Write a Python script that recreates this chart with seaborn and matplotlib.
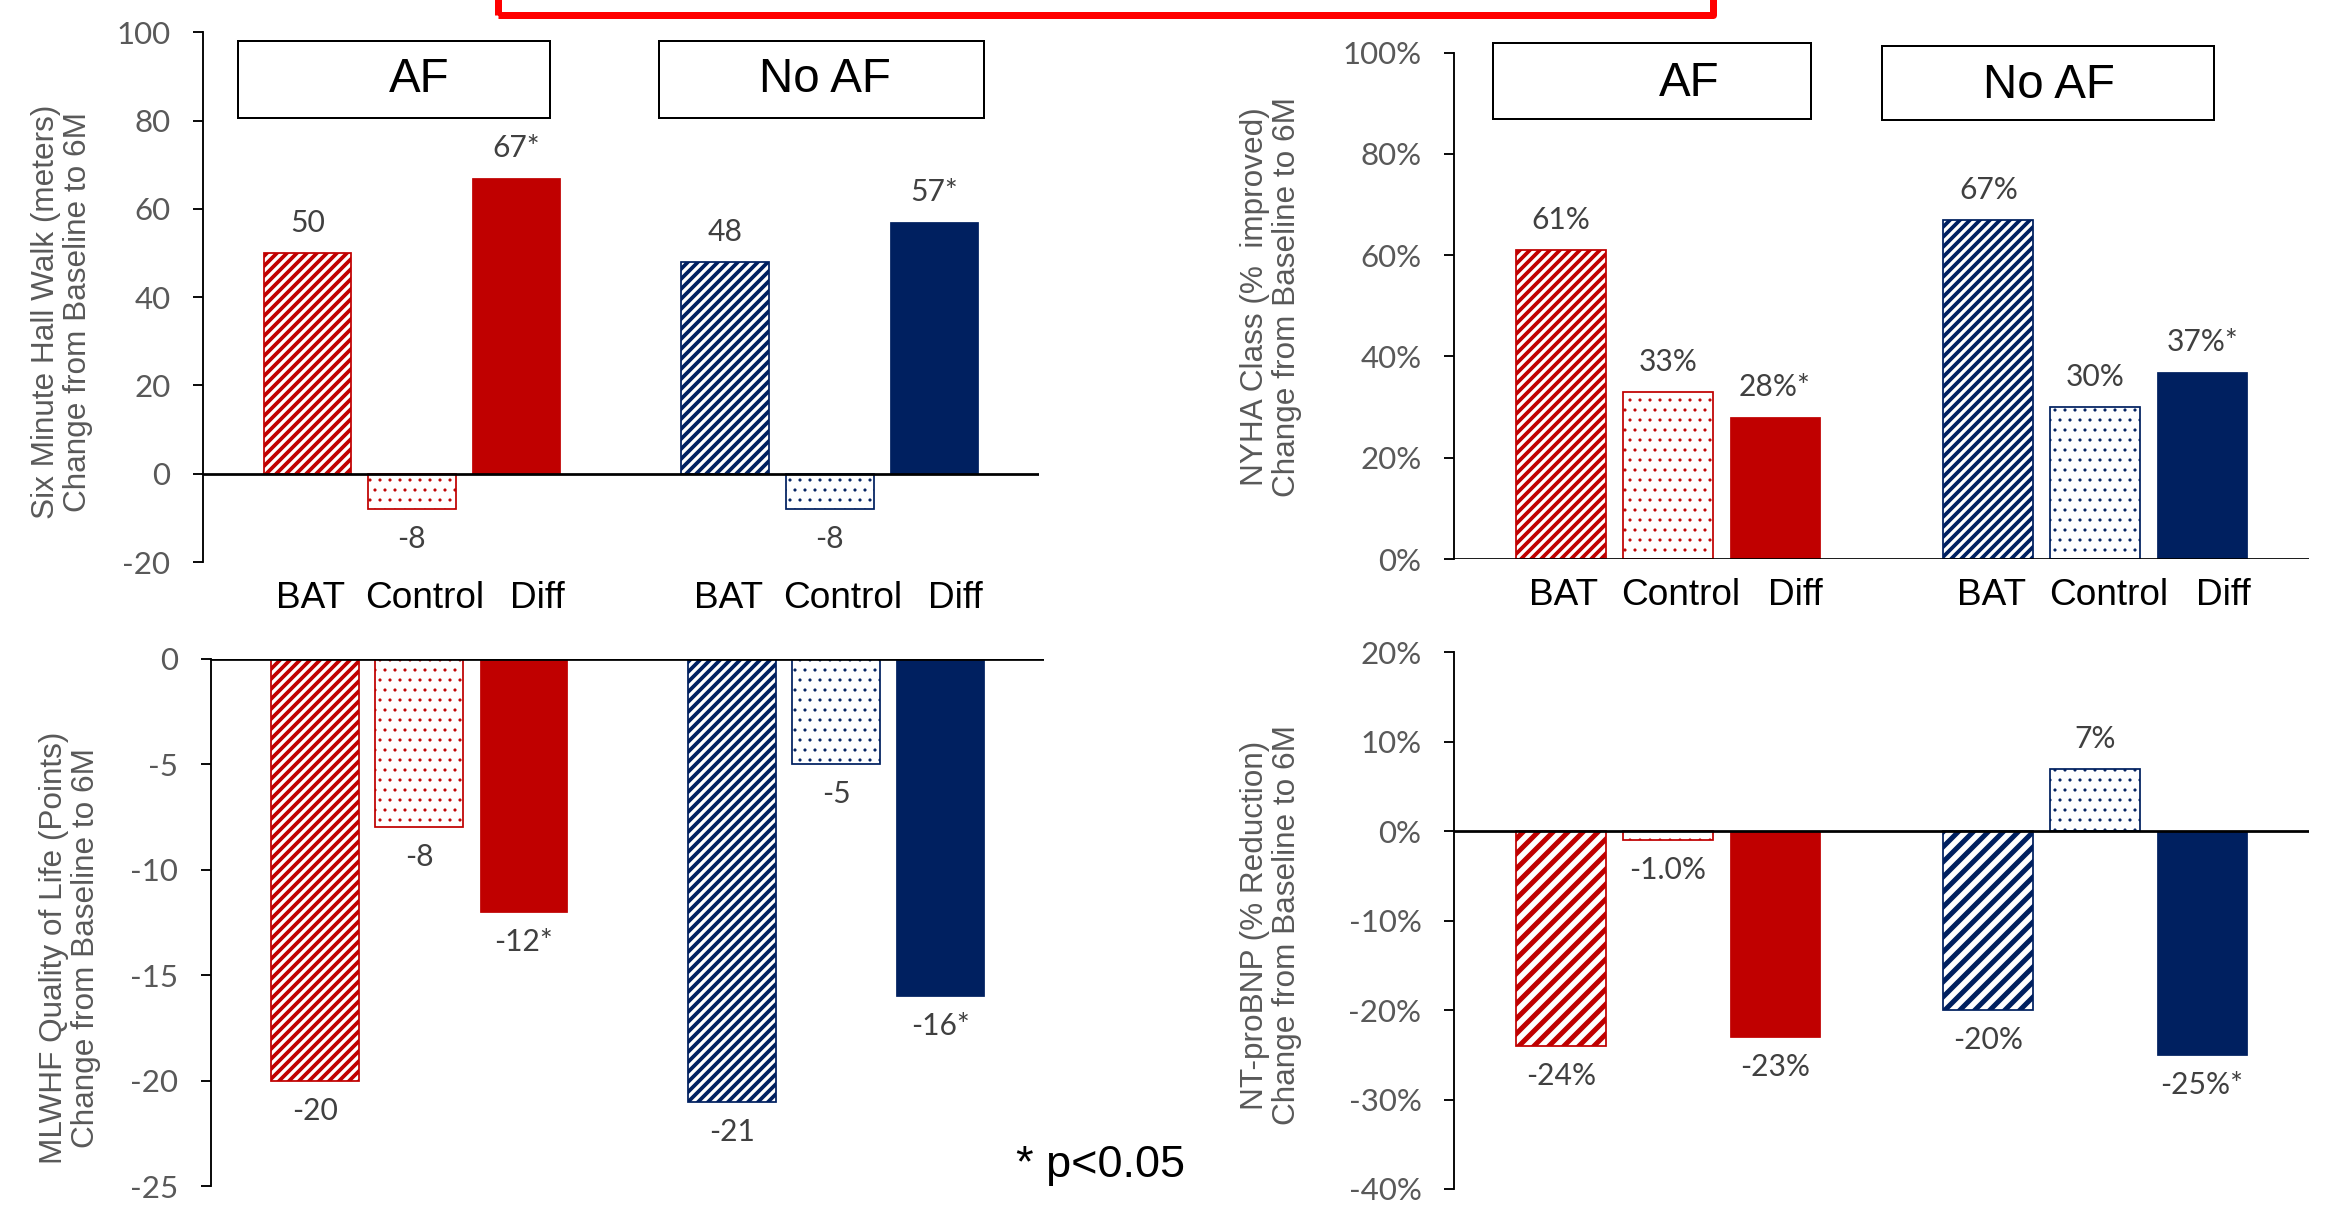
import numpy as np
import pandas as pd
import matplotlib
matplotlib.use("Agg")
import matplotlib.pyplot as plt
import matplotlib.transforms as mtransforms
from matplotlib.patches import Rectangle
from matplotlib.ticker import PercentFormatter
import seaborn as sns

# ---------------- data ----------------
groups = ["AF", "No AF"]
arms = ["BAT", "Control", "Diff"]

walk_values = [50, -8, 67, 48, -8, 57]
walk_labels = ["50", "-8", "67*", "48", "-8", "57*"]

nyha_values = [61, 33, 28, 67, 30, 37]
nyha_labels = ["61%", "33%", "28%*", "67%", "30%", "37%*"]

qol_values = [-20, -8, -12, -21, -5, -16]
qol_labels = ["-20", "-8", "-12*", "-21", "-5", "-16*"]

bnp_values = [-24, -1.0, -23, -20, 7, -25]
bnp_labels = ["-24%", "-1.0%", "-23%", "-20%", "7%", "-25%*"]

walk_ticks = [-20, 0, 20, 40, 60, 80, 100]
nyha_ticks = [0, 20, 40, 60, 80, 100]
qol_ticks = [-25, -20, -15, -10, -5, 0]
bnp_ticks = [-40, -30, -20, -10, 0, 10, 20]

walk_ylabel = "Six Minute Hall Walk (meters)\nChange from Baseline to 6M"
nyha_ylabel = "NYHA Class (%  improved)\nChange from Baseline to 6M"
qol_ylabel = "MLWHF Quality of Life (Points)\nChange from Baseline to 6M"
bnp_ylabel = "NT-proBNP (% Reduction)\nChange from Baseline to 6M"

note_text = "* p<0.05"

group_colors = {"AF": "#C00000", "No AF": "#002060"}

# ---------------- style ----------------
sns.set_style("white")
plt.rcParams["font.family"] = ["Liberation Sans", "DejaVu Sans"]
plt.rcParams["axes.unicode_minus"] = False
plt.rcParams["hatch.linewidth"] = 1.5

W, H = 2331, 1211
DPI = 180
fig = plt.figure(figsize=(W / DPI, H / DPI), dpi=DPI)


def fx(px):
    return px / W


def fy(py):
    return 1 - py / H


def make_ax(left, top, right, bottom):
    return fig.add_axes([fx(left), fy(bottom), fx(right) - fx(left), (bottom - top) / H])


CAT_SHIFT_PX = {"BAT": 3, "Control": 13, "Diff": 21}


def panel(ax, values, labels, ticks, ylim, pct, stripe, dots, stripe_lw, ylabel,
          lab_xy, show_cats):
    keys = [f"{g}|{a}" for g in groups for a in arms]
    df = pd.DataFrame({
        "key": keys,
        "group": np.repeat(groups, len(arms)),
        "arm": arms * len(groups),
        "value": values,
        "label": labels,
    })
    order = keys[:3] + ["gap"] + keys[3:]
    palette = {k: group_colors[g] for k, g in zip(df["key"], df["group"])}
    sns.barplot(data=df, x="key", y="value", hue="key", order=order,
                hue_order=keys, palette=palette, width=0.84, legend=False,
                errorbar=None, saturation=1, ax=ax, zorder=2)
    info = df.set_index("key")
    bars = list(ax.patches)
    for p in bars:
        cx = p.get_x() + p.get_width() / 2
        key = order[int(round(cx))]
        row = info.loc[key]
        color = group_colors[row["group"]]
        if row["arm"] == "Diff":
            p.set_facecolor(color)
            p.set_edgecolor(color)
            p.set_linewidth(0.3)
        else:
            p.set_facecolor("white")
            p.set_edgecolor(color)
            p.set_linewidth(0.7)
            is_bat = row["arm"] == "BAT"
            p.set_hatch(stripe if is_bat else dots)
            if hasattr(p, "set_hatch_linewidth"):
                p.set_hatch_linewidth(stripe_lw if is_bat else 0.45)
        v = row["value"]
        ax.annotate(row["label"], xy=(cx, v), xytext=(0, 12 if v >= 0 else -12),
                    textcoords="offset points", ha="center", va="center",
                    fontsize=12, color="#404040", family=["Lato", "DejaVu Sans"])

    ax.set_xlim(-1, 7)
    ax.set_ylim(*ylim)
    ax.set_yticks(ticks)
    if pct:
        ax.yaxis.set_major_formatter(PercentFormatter(xmax=100, decimals=0))
    ax.axhline(0, color="black", lw=1.1, zorder=4)
    for s in ["top", "right", "bottom"]:
        ax.spines[s].set_visible(False)
    ax.spines["left"].set_color("black")
    ax.spines["left"].set_linewidth(0.75)
    ax.tick_params(axis="y", direction="out", length=4, width=0.75, color="black",
                   pad=9, labelsize=12.5, labelcolor="#595959", left=True)
    for t in ax.get_yticklabels():
        t.set_fontfamily(["Lato", "DejaVu Sans"])

    pos = [order.index(k) for k in keys]
    ax.set_xticks(pos)
    if show_cats:
        ax.set_xticklabels(list(df["arm"]))
        ax.tick_params(axis="x", length=0, pad=7.5, labelsize=14.8, labelcolor="black")
        for t in ax.get_xticklabels():
            shift = mtransforms.ScaledTranslation(CAT_SHIFT_PX.get(t.get_text(), 12) / DPI, 0,
                                                  fig.dpi_scale_trans)
            t.set_transform(t.get_transform() + shift)
    else:
        ax.set_xticklabels([])
        ax.tick_params(axis="x", length=0)
    ax.set_xlabel("")
    ax.set_ylabel(ylabel, fontsize=12.6, color="#595959", linespacing=1.12)
    ax.yaxis.label.set_verticalalignment("center")
    ax.yaxis.set_label_coords(fx(lab_xy[0]), fy(lab_xy[1]), transform=fig.transFigure)


def group_box(x0, y0, x1, y1, text, tx, ty):
    fig.patches.append(Rectangle((fx(x0), fy(y1)), fx(x1) - fx(x0), (y1 - y0) / H,
                                 transform=fig.transFigure, fill=False,
                                 edgecolor="black", lw=0.8))
    fig.text(fx(tx), fy(ty), text, ha="center", va="center", fontsize=19, color="black")


ax_tl = make_ax(203, 32.3, 1038.6, 562)
panel(ax_tl, walk_values, walk_labels, walk_ticks, (-20, 100), False, "//////", "...", 1.5,
      walk_ylabel, (62, 312), True)

ax_tr = make_ax(1454, 52.7, 2309, 559)
panel(ax_tr, nyha_values, nyha_labels, nyha_ticks, (0, 100), True, "//////", "...", 1.5,
      nyha_ylabel, (1271, 297), True)

ax_bl = make_ax(210.7, 658.6, 1044.4, 1186)
panel(ax_bl, qol_values, qol_labels, qol_ticks, (-25, 0), False, "//////", "...", 1.5,
      qol_ylabel, (70, 948), False)

ax_br = make_ax(1454, 652.3, 2309, 1189)
panel(ax_br, bnp_values, bnp_labels, bnp_ticks, (-40, 20), True, "////", "...", 2.0,
      bnp_ylabel, (1271, 925), False)

# group header boxes
group_box(238, 41, 550, 118, groups[0], 419, 79)
group_box(659, 41, 984, 118, groups[1], 825, 79)
group_box(1493, 43, 1811, 119, groups[0], 1689, 83)
group_box(1882, 46, 2214, 120, groups[1], 2049, 85)

# significance note
fig.text(fx(1101), fy(1165), note_text, ha="center", va="center", fontsize=18, color="black")

# red title frame (cut off at top of slide)
fig.patches.append(Rectangle((fx(498), fy(14.5)), fx(1713) - fx(498), 0.2,
                             transform=fig.transFigure, fill=False,
                             edgecolor="#FF0000", lw=2.8, joinstyle="round"))

fig.savefig("out.png", dpi=DPI)
